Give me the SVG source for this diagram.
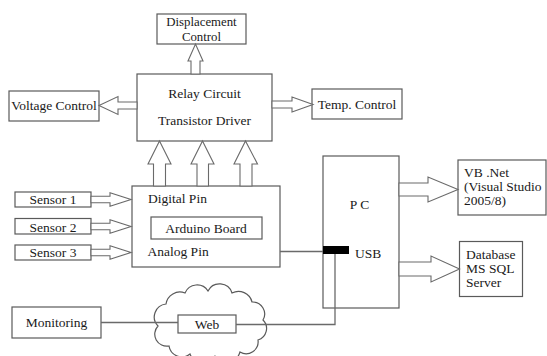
<svg xmlns="http://www.w3.org/2000/svg" width="547" height="356" viewBox="0 0 547 356">
<style>
.box{fill:#fff;stroke:#5a5a5a;stroke-width:1.2}
.arr{fill:#fff;stroke:#6a6a6a;stroke-width:1.1;stroke-linejoin:miter}
.ln{fill:none;stroke:#6a6a6a;stroke-width:1.3}
text{font-family:"Liberation Serif","Times New Roman",serif;font-size:13.5px;fill:#1a1a1a}
.c{text-anchor:middle}
.sm{font-size:12.8px}
</style>
<rect width="547" height="356" fill="#fff"/>
<g id="web">
<path class="box" d="M158,326 A13,13 0 0 1 166,304 A14,14 0 0 1 185,293 A13,13 0 0 1 208,291 A13,13 0 0 1 232,293 A14,14 0 0 1 252,302 A12,12 0 0 1 263,320 A12,12 0 0 1 258,340 A12,12 0 0 1 240,352 A14,14 0 0 1 215,356 A14,14 0 0 1 190,354 A13,13 0 0 1 169,346 A12,12 0 0 1 158,326 Z"/>
<rect class="box" x="178" y="315" width="58" height="18"/>
<text class="c" x="207" y="328.5">Web</text>
</g>
<g id="displacement">
<rect class="box" x="157" y="14" width="89" height="30"/>
<text class="c sm" x="201.5" y="26">Displacement</text>
<text class="c sm" x="201.5" y="40.5">Control</text>
</g>
<g id="relay">
<rect class="box" x="137" y="74" width="135" height="67"/>
<text class="c" x="204.5" y="97.5">Relay Circuit</text>
<text class="c" x="204.5" y="124.5">Transistor Driver</text>
</g>
<g id="voltage">
<rect class="box" x="9" y="91" width="90" height="30"/>
<text class="c" x="54" y="110">Voltage Control</text>
</g>
<g id="temp">
<rect class="box" x="312" y="89" width="90" height="30"/>
<text class="c" x="357" y="108.5">Temp. Control</text>
</g>
<g id="arduino">
<rect class="box" x="132" y="186" width="148" height="81"/>
<text x="148" y="203">Digital Pin</text>
<rect class="box" x="151" y="217" width="111" height="22"/>
<text class="c" x="206" y="232.5">Arduino Board</text>
<text x="147.5" y="256">Analog Pin</text>
</g>
<g id="sensor1">
<rect class="box" x="15" y="192" width="76" height="15"/>
<text class="c" x="53" y="204">Sensor 1</text>
</g>
<g id="sensor2">
<rect class="box" x="15" y="218.5" width="76" height="15.5"/>
<text class="c" x="53" y="231.5">Sensor 2</text>
</g>
<g id="sensor3">
<rect class="box" x="15" y="245" width="76" height="15"/>
<text class="c" x="53" y="257">Sensor 3</text>
</g>
<g id="monitoring">
<rect class="box" x="12" y="307" width="89" height="31"/>
<text class="c" x="56.5" y="327">Monitoring</text>
</g>
<g id="pc">
<rect class="box" x="323" y="156" width="76" height="152"/>
<text class="c" x="361" y="209" letter-spacing="3">PC</text>
<rect x="323" y="246" width="26" height="8" fill="#000"/>
<text x="355" y="257.5">USB</text>
</g>
<g id="vbnet">
<rect class="box" x="458" y="160" width="88" height="55"/>
<text x="464" y="177">VB .Net</text>
<text x="464" y="191">(Visual Studio</text>
<text x="464" y="205">2005/8)</text>
</g>
<g id="database">
<rect class="box" x="459.5" y="241.5" width="63" height="55"/>
<text x="466" y="259">Database</text>
<text x="466" y="273">MS SQL</text>
<text x="466" y="287">Server</text>
</g>
<g id="connectors">
<polygon class="arr" points="191,74 191,61 188,61 195.5,44 203,61 200,61 200,74"/>
<polygon class="arr" points="137,102 118,102 118,96.5 99,105.5 118,114.5 118,109 137,109"/>
<polygon class="arr" points="272,101 292,101 292,97 313,104.5 292,112 292,108 272,108"/>
<polygon class="arr" points="153.5,186 153.5,164 148,164 159.5,141 171,164 165.5,164 165.5,186"/>
<polygon class="arr" points="197,186 197,164 191,164 202.5,141 214,164 208.5,164 208.5,186"/>
<polygon class="arr" points="240,186 240,164 234,164 245.5,141 257.5,164 252,164 252,186"/>
<polygon class="arr" points="91,196.2 110,196.2 110,192.8 131,199.5 110,206.2 110,202.8 91,202.8"/>
<polygon class="arr" points="91,223.2 110,223.2 110,219.8 131,226.5 110,233.2 110,229.8 91,229.8"/>
<polygon class="arr" points="91,249.2 110,249.2 110,245.8 131,252.5 110,259.2 110,255.8 91,255.8"/>
<polygon class="arr" points="399,183 428,183 428,177 458,189.5 428,202 428,196 399,196"/>
<polygon class="arr" points="399,262 431,262 431,256 459.5,269 431,282 431,276 399,276"/>
<line class="ln" x1="280" y1="251.5" x2="323" y2="251.5"/>
<polyline class="ln" points="335,254 335,324.5 236,324.5"/>
<line class="ln" x1="101" y1="322.5" x2="178" y2="322.5"/>
</g>
</svg>
